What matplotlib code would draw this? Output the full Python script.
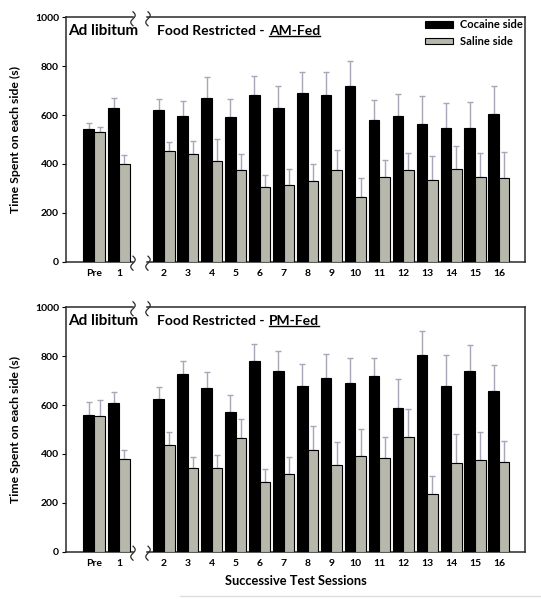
import matplotlib
matplotlib.use("Agg")
import matplotlib.pyplot as plt
import matplotlib.transforms as mtransforms
from matplotlib.lines import Line2D
from matplotlib.patches import Patch
import numpy as np

plt.rcParams['font.family'] = ['Lato', 'DejaVu Sans']
plt.rcParams['font.weight'] = 'bold'

# ---------------- data ----------------
sessions_left = ["Pre", "1"]
sessions_right = [str(i) for i in range(2, 17)]

am_cocaine = [542, 629, 621, 595, 670, 592, 681, 628, 692, 683, 719, 578, 595, 563, 546, 548, 603]
am_cocaine_err = [24, 39, 46, 61, 87, 74, 78, 92, 83, 95, 101, 84, 93, 114, 102, 104, 115]
am_saline = [532, 400, 452, 439, 411, 374, 307, 312, 329, 374, 266, 347, 374, 333, 378, 345, 341]
am_saline_err = [18, 35, 39, 53, 90, 68, 46, 66, 72, 82, 75, 68, 72, 98, 95, 98, 106]

pm_cocaine = [558, 608, 625, 726, 668, 572, 779, 738, 677, 712, 692, 718, 587, 804, 677, 738, 656]
pm_cocaine_err = [56, 44, 50, 53, 69, 71, 70, 82, 90, 97, 102, 73, 118, 99, 128, 106, 107]
pm_saline = [555, 378, 435, 342, 344, 464, 285, 317, 417, 356, 393, 385, 469, 235, 364, 377, 366]
pm_saline_err = [64, 37, 55, 44, 53, 78, 52, 69, 96, 91, 108, 83, 115, 73, 119, 111, 87]

panel_names = ["AM-Fed", "PM-Fed"]
legend_labels = ["Cocaine side", "Saline side"]
ylabel = "Time Spent on each side (s)"
xlabel = "Successive Test Sessions"

# ---------------- style ----------------
W, H = 541, 599
DPI = 100
C_COC = "#000000"
C_SAL = "#b7b8ab"
C_ERR = "#a6a8b8"
C_SPINE = "#2a2a2a"
BW = 0.44

fig = plt.figure(figsize=(W / DPI, H / DPI), dpi=DPI)
pix = mtransforms.Affine2D().scale(1 / DPI) + fig.dpi_scale_trans  # pixel coords from bottom-left


def fx(px):
    return px / W


def fy(py_top):
    return 1 - py_top / H


def draw_break(xp, yp_top):
    s = np.linspace(0, 1, 40)
    y = (H - yp_top) + 14 * (s - 0.5)
    x = xp - 2.2 * np.sin(2 * np.pi * s)
    fig.add_artist(Line2D(x, y, transform=pix, color=C_SPINE, lw=0.9))


panels = [
    (am_cocaine, am_cocaine_err, am_saline, am_saline_err, panel_names[0], 17.3, 261.7),
    (pm_cocaine, pm_cocaine_err, pm_saline, pm_saline_err, panel_names[1], 307.3, 551.7),
]

pending = []
nl = len(sessions_left)
for pi_, (coc, coce, sal, sale, pname, ytop, ybot) in enumerate(panels):
    b = fy(ybot)
    h = (ybot - ytop) / H
    axL = fig.add_axes([fx(66), b, fx(133) - fx(66), h])
    axR = fig.add_axes([fx(147), b, fx(525) - fx(147), h])

    xl = np.arange(nl)
    xr = np.arange(nl, nl + len(sessions_right))
    for ax, xs, sl in ((axL, xl, slice(0, nl)), (axR, xr, slice(nl, None))):
        c = np.array(coc[sl]); ce = np.array(coce[sl])
        s = np.array(sal[sl]); se = np.array(sale[sl])
        ax.bar(xs - BW / 2, c, BW, color=C_COC, edgecolor="black", linewidth=0.8, zorder=3)
        ax.bar(xs + BW / 2, s, BW, color=C_SAL, edgecolor="black", linewidth=0.8, zorder=3)
        ax.errorbar(xs - BW / 2, c, yerr=[np.zeros_like(ce), ce], fmt="none",
                    ecolor=C_ERR, elinewidth=1.0, capsize=2.5, capthick=1.0, zorder=2)
        ax.errorbar(xs + BW / 2, s, yerr=[np.zeros_like(se), se], fmt="none",
                    ecolor=C_ERR, elinewidth=1.0, capsize=2.5, capthick=1.0, zorder=2)
        ax.set_ylim(0, 1000)
        ax.tick_params(axis="x", length=0, labelsize=7.5, pad=5)
        for sp in ax.spines.values():
            sp.set_color(C_SPINE)
            sp.set_linewidth(1.1)

    axL.set_xlim(-1.15, 1.57)
    axR.set_xlim(1.29, 17.09)
    axL.set_xticks(xl, sessions_left)
    axR.set_xticks(xr, sessions_right)
    axL.spines["right"].set_visible(False)
    axR.spines["left"].set_visible(False)
    axR.tick_params(axis="y", left=False, labelleft=False)
    axL.set_yticks(np.arange(0, 1001, 200))
    axL.tick_params(axis="y", direction="out", length=3, labelsize=7.5, pad=2)
    axL.set_ylabel(ylabel, fontsize=8.8, fontweight="bold", labelpad=10)

    ty = 1 - (35.0 - 17.3) / 244.4
    axL.text(0.03, ty, "Ad libitum", transform=axL.transAxes, fontsize=11,
             fontweight="bold", va="baseline", ha="left")
    t1 = axR.text(0.027, ty, "Food Restricted -", transform=axR.transAxes,
                  fontsize=10, fontweight="bold", va="baseline", ha="left")
    pending.append((axR, t1, pname, ty))

    if pi_ == 0:
        handles = [Patch(facecolor=C_COC, edgecolor="black", linewidth=0.8),
                   Patch(facecolor=C_SAL, edgecolor="black", linewidth=0.8)]
        axR.legend(handles, legend_labels, loc="upper left",
                   bbox_to_anchor=((425 - 147) / 378, 0.992),
                   frameon=False, handlelength=2.55, handleheight=0.55,
                   labelspacing=0.5, handletextpad=0.6, borderpad=0, borderaxespad=0,
                   prop={"weight": "bold", "size": 8})
    else:
        axR.set_xlabel(xlabel, fontsize=9.3, fontweight="bold")
        axR.xaxis.set_label_coords((296 - 147) / 378, -(581 - 551.7) / 244.4)
        axR.xaxis.label.set_va("center")

    for yp in (ytop, ybot):
        draw_break(133, yp + 1.5)
        draw_break(148, yp + 1.5)

# feeding condition, placed right after the title and underlined
fig.canvas.draw()
r = fig.canvas.get_renderer()
labels2 = []
for axR, t1, pname, ty in pending:
    bb = t1.get_window_extent(r)
    xa = axR.transAxes.inverted().transform((bb.x1 + 4, 0))[0]
    t2 = axR.text(xa, ty, pname, transform=axR.transAxes, fontsize=10,
                  fontweight="bold", va="baseline", ha="left")
    labels2.append(t2)
fig.canvas.draw()
for t2 in labels2:
    bb = t2.get_window_extent(r)
    y0 = bb.y0 + 1.0
    fig.add_artist(Line2D([bb.x0, bb.x1], [y0, y0], transform=None, color="black", lw=1.0))

# faint rule at the bottom of the figure
fig.add_artist(Line2D([180, 541], [H - 596, H - 596], transform=pix, color="#dddddd", lw=1.0))

fig.savefig("out.png", dpi=DPI)
